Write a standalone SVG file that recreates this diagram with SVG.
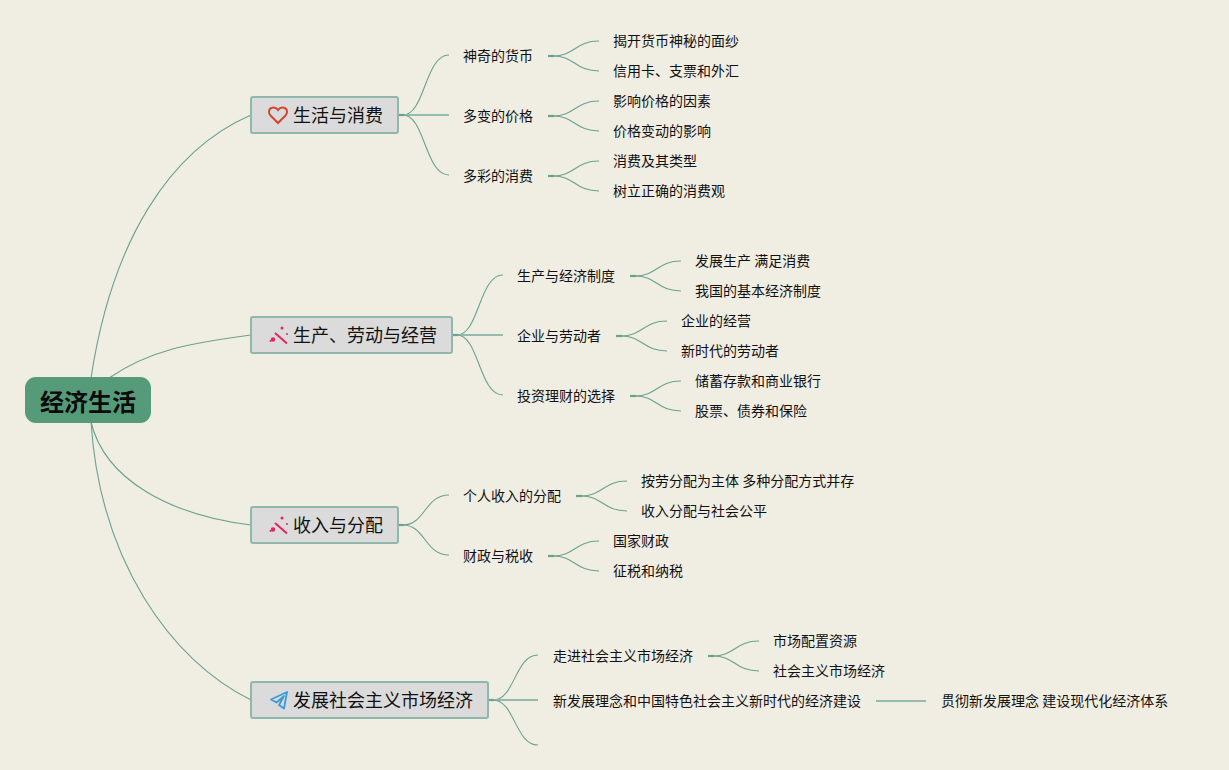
<svg xmlns="http://www.w3.org/2000/svg" width="1229" height="770" viewBox="0 0 1229 770">
<style>
text{font-family:"Noto Sans CJK SC","Noto Sans",sans-serif;fill:#111}
.t{font-size:14px;font-weight:400}
.m{font-size:18px}
.r{font-size:24px;font-weight:700;fill:#0a0a0a}
.box{fill:#dbdbdb;stroke:#8fb8ab;stroke-width:2}
#connectors path{fill:none;stroke:#6ba28f;stroke-width:1.1}
#connectors .w{stroke:#93bcae;stroke-width:1.800}
#connectors .s{stroke:#6ba28f;stroke-width:2.200}
.wand{fill:none;stroke:#e3265f;stroke-width:2}
.spark{fill:#e3265f}
</style>
<rect width="1229" height="770" fill="#f0ede3"/>
<g id="connectors">
<path d="M91 378C112 240 170 150 251 115"/>
<path d="M109 378C150 350 190 343 251 335"/>
<path d="M91 422C105 480 170 515 251 525"/>
<path d="M91 422C100 560 170 660 251 700"/>
<path d="M403 115C425 115 425 55 449 55"/>
<path class="w" d="M403 115H449"/>
<path d="M403 115C425 115 425 175 449 175"/>
<path class="s" d="M398 115H404"/>
<path d="M553 56C575 56 575 41 599 41"/>
<path d="M553 56C575 56 575 71 599 71"/>
<path class="s" d="M548 56H554"/>
<path d="M553 116C575 116 575 101 599 101"/>
<path d="M553 116C575 116 575 131 599 131"/>
<path class="s" d="M548 116H554"/>
<path d="M553 176C575 176 575 161 599 161"/>
<path d="M553 176C575 176 575 191 599 191"/>
<path class="s" d="M548 176H554"/>
<path d="M457 335C479 335 479 275 503 275"/>
<path class="w" d="M457 335H503"/>
<path d="M457 335C479 335 479 395 503 395"/>
<path class="s" d="M452 335H458"/>
<path d="M635 276C657 276 657 261 681 261"/>
<path d="M635 276C657 276 657 291 681 291"/>
<path class="s" d="M630 276H636"/>
<path d="M621 336C643 336 643 321 667 321"/>
<path d="M621 336C643 336 643 351 667 351"/>
<path class="s" d="M616 336H622"/>
<path d="M635 396C657 396 657 381 681 381"/>
<path d="M635 396C657 396 657 411 681 411"/>
<path class="s" d="M630 396H636"/>
<path d="M403 525C425 525 425 495 449 495"/>
<path d="M403 525C425 525 425 555 449 555"/>
<path class="s" d="M398 525H404"/>
<path d="M581 496C603 496 603 481 627 481"/>
<path d="M581 496C603 496 603 511 627 511"/>
<path class="s" d="M576 496H582"/>
<path d="M553 556C575 556 575 541 599 541"/>
<path d="M553 556C575 556 575 571 599 571"/>
<path class="s" d="M548 556H554"/>
<path d="M493 700C515 700 515 655 538 655"/>
<path class="w" d="M493 700H538"/>
<path d="M493 700C515 700 515 745 538 745"/>
<path class="s" d="M488 700H494"/>
<path d="M713 656C735 656 735 641 759 641"/>
<path d="M713 656C735 656 735 671 759 671"/>
<path class="s" d="M708 656H714"/>
<path class="w" d="M876 701H926"/>
</g>
<g id="root"><rect x="25" y="377" width="126" height="46" rx="11" fill="#559b7a"/><text class="r" x="88" y="411" text-anchor="middle">经济生活</text></g>
<g id="n1"><rect class="box" x="251" y="97" width="147" height="36" rx="2"/>
<path d="M278 123L270.500 115.500C267.500 112 269 108 273 107.500C275.500 107.300 277 108.500 278 110C279 108.500 280.500 107.300 283 107.500C287 108 288.500 112 285.500 115.500Z" fill="none" stroke="#d2452f" stroke-width="2"/>
<text class="m" x="293" y="122">生活与消费</text></g>
<g id="n2"><rect class="box" x="251" y="317" width="201" height="36" rx="2"/>
<path class="wand" d="M275 333L287 343.500"/><circle class="spark" cx="282" cy="328" r="1.500"/><circle class="spark" cx="273" cy="339.500" r="2.200"/><circle class="spark" cx="287" cy="334" r="1"/><circle class="spark" cx="270.500" cy="341" r="1"/>
<text class="m" x="293" y="342">生产、劳动与经营</text></g>
<g id="n3"><rect class="box" x="251" y="507" width="147" height="36" rx="2"/>
<path class="wand" d="M275 523L287 533.500"/><circle class="spark" cx="282" cy="518" r="1.500"/><circle class="spark" cx="273" cy="529.500" r="2.200"/><circle class="spark" cx="287" cy="524" r="1"/><circle class="spark" cx="270.500" cy="531" r="1"/>
<text class="m" x="293" y="532">收入与分配</text></g>
<g id="n4"><rect class="box" x="251" y="682" width="237" height="36" rx="2"/>
<path d="M287 692L271 699.500L276.500 702.500L284 696L279 705L284 708.500Z" fill="none" stroke="#3c9ad6" stroke-width="1.800" stroke-linejoin="round"/>
<text class="m" x="293" y="707">发展社会主义市场经济</text></g>
<g id="b1"><text class="t" x="463" y="61">神奇的货币</text></g>
<g id="b2"><text class="t" x="463" y="121">多变的价格</text></g>
<g id="b3"><text class="t" x="463" y="181">多彩的消费</text></g>
<g id="c1"><text class="t" x="613" y="46">揭开货币神秘的面纱</text></g>
<g id="c2"><text class="t" x="613" y="76">信用卡、支票和外汇</text></g>
<g id="c3"><text class="t" x="613" y="106">影响价格的因素</text></g>
<g id="c4"><text class="t" x="613" y="136">价格变动的影响</text></g>
<g id="c5"><text class="t" x="613" y="166">消费及其类型</text></g>
<g id="c6"><text class="t" x="613" y="196">树立正确的消费观</text></g>
<g id="b4"><text class="t" x="517" y="281">生产与经济制度</text></g>
<g id="b5"><text class="t" x="517" y="341">企业与劳动者</text></g>
<g id="b6"><text class="t" x="517" y="401">投资理财的选择</text></g>
<g id="c7"><text class="t" x="695" y="266">发展生产 满足消费</text></g>
<g id="c8"><text class="t" x="695" y="296">我国的基本经济制度</text></g>
<g id="c9"><text class="t" x="681" y="326">企业的经营</text></g>
<g id="c10"><text class="t" x="681" y="356">新时代的劳动者</text></g>
<g id="c11"><text class="t" x="695" y="386">储蓄存款和商业银行</text></g>
<g id="c12"><text class="t" x="695" y="416">股票、债券和保险</text></g>
<g id="b7"><text class="t" x="463" y="501">个人收入的分配</text></g>
<g id="b8"><text class="t" x="463" y="561">财政与税收</text></g>
<g id="c13"><text class="t" x="641" y="486">按劳分配为主体 多种分配方式并存</text></g>
<g id="c14"><text class="t" x="641" y="516">收入分配与社会公平</text></g>
<g id="c15"><text class="t" x="613" y="546">国家财政</text></g>
<g id="c16"><text class="t" x="613" y="576">征税和纳税</text></g>
<g id="b9"><text class="t" x="553" y="661">走进社会主义市场经济</text></g>
<g id="b10"><text class="t" x="553" y="706">新发展理念和中国特色社会主义新时代的经济建设</text></g>
<g id="c17"><text class="t" x="773" y="646">市场配置资源</text></g>
<g id="c18"><text class="t" x="773" y="676">社会主义市场经济</text></g>
<g id="c19"><text class="t" x="941" y="706">贯彻新发展理念 建设现代化经济体系</text></g>
</svg>
